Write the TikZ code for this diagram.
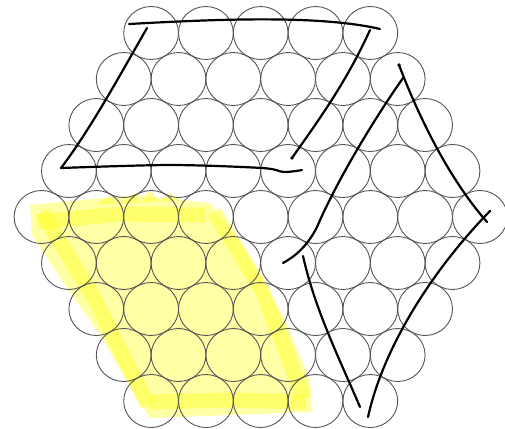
\documentclass[tikz,border=0pt]{standalone}
\usepackage{xcolor}
\usepackage{tikz}
\usetikzlibrary{
  arrows.meta,
  calc
}
\definecolor{hxBall}{HTML}{555555}
\definecolor{hxInk}{HTML}{000000}
\definecolor{hxMark}{HTML}{FFFF2E}
\definecolor{hxPale}{HTML}{FFFFA6}
\tikzset{
  ball/.style={draw=hxBall, line width=0.9pt},
  ink/.style={draw=hxInk, line width=2.2pt, line cap=round, line join=round},
  marker/.style={draw=hxMark, line width=15pt, opacity=0.5},
  markerbase/.style={fill=hxPale, draw=none}
}

\begin{document}
\begin{tikzpicture}[x=1pt, y=-1pt]
  \useasboundingbox (0,0) rectangle (505,428);

  % highlighter
  \fill[markerbase] (30,205) -- (135,195) -- (210,203) -- (245,250) -- (285,320)
    -- (310,380) -- (312,412) -- (150,418) -- (135,395) -- (100,335)
    -- (65,285) -- (32,235) -- cycle;
  \draw[marker] (38,222) -- (120,214) -- (205,215);
  \draw[marker] (42,212) -- (95,300) -- (148,405);
  \draw[marker] (214,212) -- (262,290) -- (304,398);
  \draw[marker] (150,402) -- (230,400) -- (306,402);
  \fill[hxMark, opacity=0.5] (95,205) -- (110,196) -- (118,205) -- (135,193)
    -- (140,204) -- (150,190) -- (160,203) -- (170,193) -- (180,200) -- cycle;

  % packed balls
  \foreach \r in {0,...,8} {
    \pgfmathtruncatemacro{\off}{abs(\r-4)}
    \pgfmathtruncatemacro{\cnt}{8-\off}
    \foreach \c in {0,...,\cnt} {
      \draw[ball] ({41.5+27.4*\off+54.8*\c},{33+46*\r}) ellipse (27.4 and 26.5);
    }
  }

  % upper left parallelogram
  \draw[ink] (129,24) .. controls (220,19) and (320,15) .. (380,29);
  \draw[ink] (147,28) .. controls (120,75) and (90,130) .. (61,168);
  \draw[ink] plot[smooth] coordinates {(61,168) (170,165) (262,168) (284,172) (302,170)};
  \draw[ink] (370,30) .. controls (345,85) and (315,125) .. (292,158);
  \fill[hxInk] (292,158) circle (1.9);

  % right rhombus
  \draw[ink] (403,78) .. controls (370,125) and (335,185) .. (317,227)
    .. controls (308,245) and (296,256) .. (283,263);
  \draw[ink] (399,65) .. controls (420,120) and (450,180) .. (487,222);
  \draw[ink] (490,211) .. controls (440,262) and (385,340) .. (368,417);
  \draw[ink] (303,256) .. controls (315,310) and (340,360) .. (360,407);
  \fill[hxInk] (399,65) circle (1.9);
\end{tikzpicture}
\end{document}
